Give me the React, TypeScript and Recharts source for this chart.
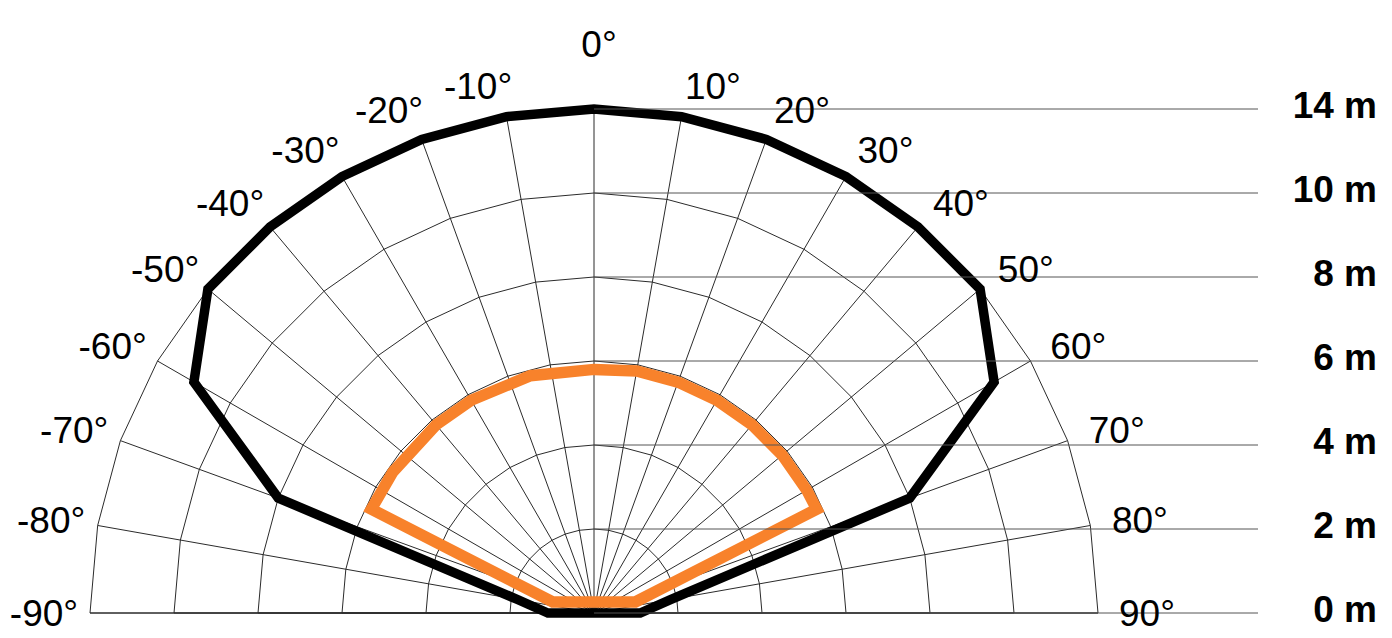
import { PolarAngleAxis, PolarGrid, PolarRadiusAxis, Radar, RadarChart } from "recharts"

// angle of each spoke in 5° steps, degrees from straight ahead
const angles = [
  -90, -85, -80, -75, -70, -65, -60, -55, -50, -45, -40, -35, -30, -25, -20, -15, -10, -5, 0,
  5, 10, 15, 20, 25, 30, 35, 40, 45, 50, 55, 60, 65, 70, 75, 80, 85, 90,
]
const n = null
// outer (black) detection outline, metres (read at the 10° spokes)
const wideRange = [
  1.1, n, 1.85, n, 8, n, 11, n, 12, n, 12, n, 12, n, 12, n, 12, n, 12,
  n, 12, n, 12, n, 12, n, 12, n, 12, n, 11, n, 8, n, 1.85, n, 1.1,
]
// inner (orange) detection outline, metres (read at its corners)
const shortRange = [
  n, n, n, 1.02, n, 5.85, n, 5.85, n, n, 5.85, n, 5.85, n, n, 5.85, n, n, 5.8,
  n, 5.85, n, 5.85, n, 5.85, n, 5.85, n, 5.85, n, 5.85, 5.85, n, 1.02, n, n, n,
]
// labels of the distance lines, bottom to top
const distanceLabels = ["0 m", "2 m", "4 m", "6 m", "8 m", "10 m", "14 m"]

const data = angles.map((angle, i) => ({ angle, wide: wideRange[i], short: shortRange[i] }))
// grid spokes every 10°
const gridAngles = angles.filter((a) => a % 10 === 0).map((a) => 90 - a)

const CX = 594
const CY = 613
const RADIUS = 504
const LABEL_R = 535
const font = '"Liberation Sans", Arial, Helvetica, sans-serif'

function DistanceTick(props: any) {
  const { x, y, payload } = props
  const label = distanceLabels[Math.round(payload.value / 2)]
  return (
    <g>
      <line x1={x} y1={y} x2={1258} y2={y} stroke="#555" strokeWidth={1} />
      <text x={1377} y={y + 9} textAnchor="end" fontSize={37} fontWeight="bold" fontFamily={font} fill="#000">
        {label}
      </text>
    </g>
  )
}

function AngleTick(props: any) {
  const { payload } = props
  const deg: number = payload.value
  if (deg % 10 !== 0) return <g />
  const rad = (payload.coordinate * Math.PI) / 180
  const py = CY - LABEL_R * Math.sin(rad)
  let x = CX + 5
  let y = py - 21.5
  if (deg !== 0) {
    const side = deg > 0 ? 1 : -1
    x = CX + side * (LABEL_R * Math.abs(Math.cos(rad)) + 15 + 0.1 * (90 - Math.abs(deg))) + (side > 0 ? 3 : 0)
    y = py + 13
  }
  return (
    <text x={x} y={y} textAnchor="middle" fontSize={37} fontFamily={font} fill="#000">
      {`${deg}°`}
    </text>
  )
}

// closed outline through the points the Radar computed, skipping empty spokes
const outline = (color: string, width: number) => (props: any) => {
  const pts: any[] = (props.points || []).filter(
    (p: any) => p.value != null && Number.isFinite(p.x) && Number.isFinite(p.y)
  )
  const d = pts.map((p, i) => `${i ? "L" : "M"}${p.x},${p.y}`).join(" ") + " Z"
  return <path d={d} fill="none" stroke={color} strokeWidth={width} strokeLinejoin="miter" strokeMiterlimit={10} />
}

export default function App() {
  return (
    <div style={{ position: "absolute", left: 0, top: 0, background: "#fff" }}>
      <RadarChart
        width={1392}
        height={638}
        data={data}
        cx={CX}
        cy={CY}
        innerRadius={0}
        outerRadius={RADIUS}
        startAngle={180}
        endAngle={-5}
      >
        <PolarGrid gridType="polygon" stroke="#2b2b2b" strokeWidth={1} polarAngles={gridAngles} />
        <PolarRadiusAxis
          angle={90}
          type="number"
          domain={[0, 12]}
          tickCount={7}
          axisLine={false}
          tick={(p: any) => <DistanceTick {...p} />}
        />
        <PolarAngleAxis dataKey="angle" axisLine={false} tickLine={false} tick={(p: any) => <AngleTick {...p} />} />
        <Radar dataKey="short" stroke="#F8822B" fill="none" dot={false} connectNulls isAnimationActive={false} shape={outline("#F8822B", 11.5)} />
        <Radar dataKey="wide" stroke="#000" fill="none" dot={false} connectNulls isAnimationActive={false} shape={outline("#000", 9.5)} />
      </RadarChart>
    </div>
  )
}
